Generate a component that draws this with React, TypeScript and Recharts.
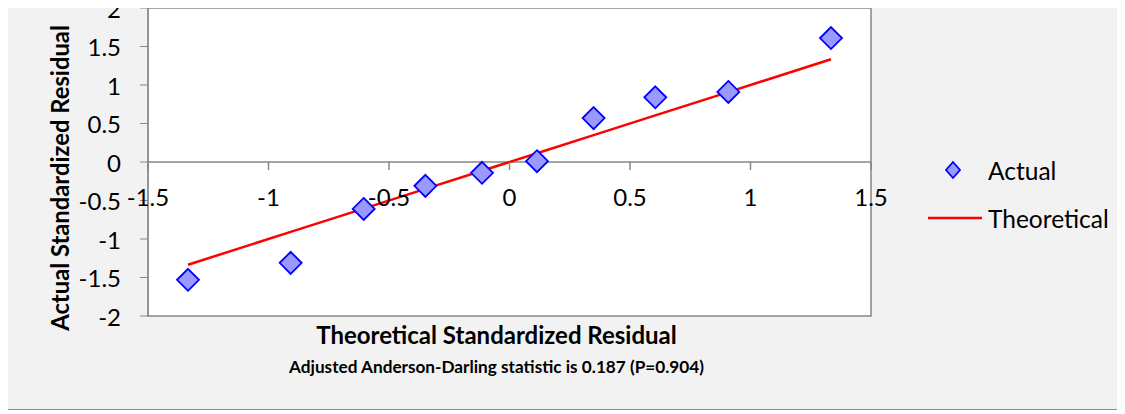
import {
  CartesianGrid,
  ReferenceArea,
  ReferenceLine,
  Scatter,
  ScatterChart,
  XAxis,
  YAxis,
} from "recharts";

// normal-quantile plot of standardized residuals
const theoretical = [-1.334, -0.908, -0.605, -0.349, -0.114, 0.114, 0.349, 0.605, 0.908, 1.334];
const actual = [-1.53, -1.31, -0.61, -0.31, -0.14, 0.01, 0.57, 0.84, 0.91, 1.61];
const xTicks = [-1.5, -1, -0.5, 0, 0.5, 1, 1.5];
const yTicks = [-2, -1.5, -1, -0.5, 0, 0.5, 1, 1.5, 2];

const actualData = theoretical.map((x, i) => ({ x, y: actual[i] }));
const lineData = theoretical.map((x) => ({ x, y: x }));

const WIDTH = 1116;
const HEIGHT = 402;
const PLOT_TOP = 1;
const PLOT_BOTTOM = 309;
const ZERO_Y = PLOT_TOP + ((PLOT_BOTTOM - PLOT_TOP) * 2) / 4;
const FONT = "Lato, 'Open Sans', sans-serif";
const AXIS = "#868686";

function Diamond(props: any) {
  const { cx, cy } = props;
  if (cx == null || cy == null) return null;
  const r = 11;
  return (
    <polygon
      points={`${cx},${cy - r} ${cx + r},${cy} ${cx},${cy + r} ${cx - r},${cy}`}
      fill="#9999FF"
      stroke="#0000FF"
      strokeWidth={1.8}
    />
  );
}

// x axis crosses at y = 0, so the ticks are drawn on that row
function XTick(props: any) {
  const { x, payload } = props;
  return (
    <g>
      <line x1={x} x2={x} y1={ZERO_Y} y2={ZERO_Y + 8} stroke={AXIS} strokeWidth={1.5} />
      <text x={x} y={ZERO_Y + 44} textAnchor="middle" fontSize={24} fontFamily={FONT} fill="#000">
        {payload.value}
      </text>
    </g>
  );
}

function YTick(props: any) {
  const { y, payload } = props;
  return (
    <text x={113} y={y} textAnchor="end" dominantBaseline="central" fontSize={24} fontFamily={FONT} fill="#000">
      {payload.value}
    </text>
  );
}

export default function App() {
  return (
    <div
      style={{
        position: "relative",
        width: WIDTH,
        height: HEIGHT,
        marginLeft: -1,
        marginTop: -2,
        background: "#F2F2F2",
        border: "1px solid #8c8c8c",
      }}
    >
      <ScatterChart width={WIDTH} height={HEIGHT} margin={{ top: PLOT_TOP, right: 253, bottom: 0, left: 0 }}>
        <CartesianGrid fill="#fff" horizontal={false} vertical={false} />
        <XAxis
          type="number"
          dataKey="x"
          domain={[-1.5, 1.5]}
          ticks={xTicks}
          interval={0}
          height={HEIGHT - PLOT_BOTTOM}
          axisLine={false}
          tickLine={false}
          tickSize={0}
          tick={<XTick />}
          label={{
            content: (p: any) => {
              const vb = p.viewBox;
              const cx = vb.x + vb.width / 2 - 13;
              return (
                <g fontFamily={FONT} fontWeight="bold" fill="#000" textAnchor="middle">
                  <text x={cx} y={337} fontSize={24}>
                    Theoretical Standardized Residual
                  </text>
                  <text x={cx} y={366} fontSize={17.2}>
                    Adjusted Anderson-Darling statistic is 0.187 (P=0.904)
                  </text>
                </g>
              );
            },
          }}
        />
        <YAxis
          type="number"
          dataKey="y"
          domain={[-2, 2]}
          ticks={yTicks}
          interval={0}
          width={140}
          stroke={AXIS}
          tickSize={8}
          tick={<YTick />}
          label={{
            content: (p: any) => {
              const vb = p.viewBox;
              const cy = vb.y + vb.height / 2 + 16;
              return (
                <text
                  x={52}
                  y={cy}
                  transform={`rotate(-90, 52, ${cy})`}
                  textAnchor="middle"
                  dominantBaseline="central"
                  fontFamily={FONT}
                  fontWeight="bold"
                  fontSize={23.8}
                  fill="#000"
                >
                  Actual Standardized Residual
                </text>
              );
            },
          }}
        />
        <ReferenceArea x1={-1.5} x2={1.5} y1={-2} y2={2} fill="none" stroke={AXIS} strokeWidth={1.5} fillOpacity={0} />
        <ReferenceLine y={0} stroke={AXIS} strokeWidth={1.5} />
        <Scatter
          name="Theoretical"
          data={lineData}
          line={{ stroke: "#FF0000", strokeWidth: 2.5 }}
          shape={() => <g />}
          isAnimationActive={false}
        />
        <Scatter name="Actual" data={actualData} shape={<Diamond />} isAnimationActive={false} />
      </ScatterChart>
      <svg
        width={200}
        height={90}
        style={{ position: "absolute", left: 915, top: 140 }}
        fontFamily={FONT}
        fontSize={24.5}
      >
        <polygon points="30,15 37,23 30,31 23,23" fill="#9999FF" stroke="#0000FF" strokeWidth={1.8} />
        <text x={65} y={23} dominantBaseline="central" fill="#000">
          Actual
        </text>
        <line x1={5} x2={59} y1={71} y2={71} stroke="#FF0000" strokeWidth={2.5} />
        <text x={65} y={71} dominantBaseline="central" fill="#000">
          Theoretical
        </text>
      </svg>
    </div>
  );
}
